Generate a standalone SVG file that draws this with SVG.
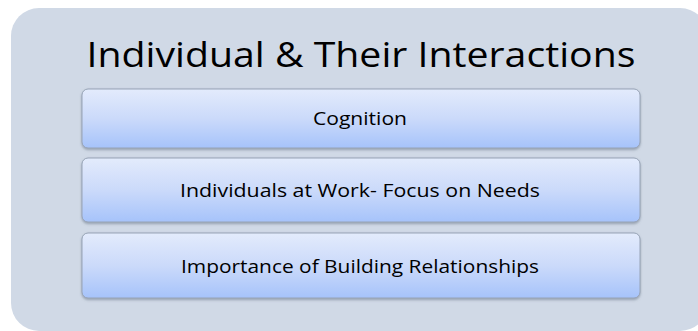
<svg xmlns="http://www.w3.org/2000/svg" width="698" height="331" viewBox="0 0 698 331">
<defs>
<linearGradient id="g" x1="0" y1="0" x2="0" y2="1">
<stop offset="0" stop-color="#e3ebfc"/>
<stop offset="0.5" stop-color="#cbdafa"/>
<stop offset="1" stop-color="#a6c3fa"/>
</linearGradient>
<filter id="sh" x="-5%" y="-10%" width="110%" height="130%">
<feDropShadow dx="0" dy="1.5" stdDeviation="1.2" flood-color="#5a6578" flood-opacity="0.5"/>
</filter>
<style>
.box{fill:url(#g);stroke:#97a3b6;stroke-width:1;filter:url(#sh)}
.t{font-family:"Open Sans","Liberation Sans",sans-serif;fill:#000;text-anchor:middle}
</style>
</defs>
<rect width="698" height="331" fill="#ffffff"/>
<g id="container">
<rect x="11" y="8" width="697" height="323" rx="28" fill="#d0d9e6"/>
<text class="t" x="361" y="67" font-size="35" textLength="549" lengthAdjust="spacingAndGlyphs">Individual &amp; Their Interactions</text>
</g>
<g id="connectors"/>
<g id="node1">
<rect class="box" x="82" y="89" width="558" height="59" rx="6"/>
<text class="t" x="360" y="125" font-size="19" textLength="94" lengthAdjust="spacingAndGlyphs">Cognition</text>
</g>
<g id="node2">
<rect class="box" x="82" y="158" width="558" height="64" rx="6"/>
<text class="t" x="360" y="197" font-size="19" textLength="360" lengthAdjust="spacingAndGlyphs">Individuals at Work- Focus on Needs</text>
</g>
<g id="node3">
<rect class="box" x="82" y="233" width="558" height="65" rx="6"/>
<text class="t" x="360" y="273" font-size="19" textLength="358" lengthAdjust="spacingAndGlyphs">Importance of Building Relationships</text>
</g>
</svg>
